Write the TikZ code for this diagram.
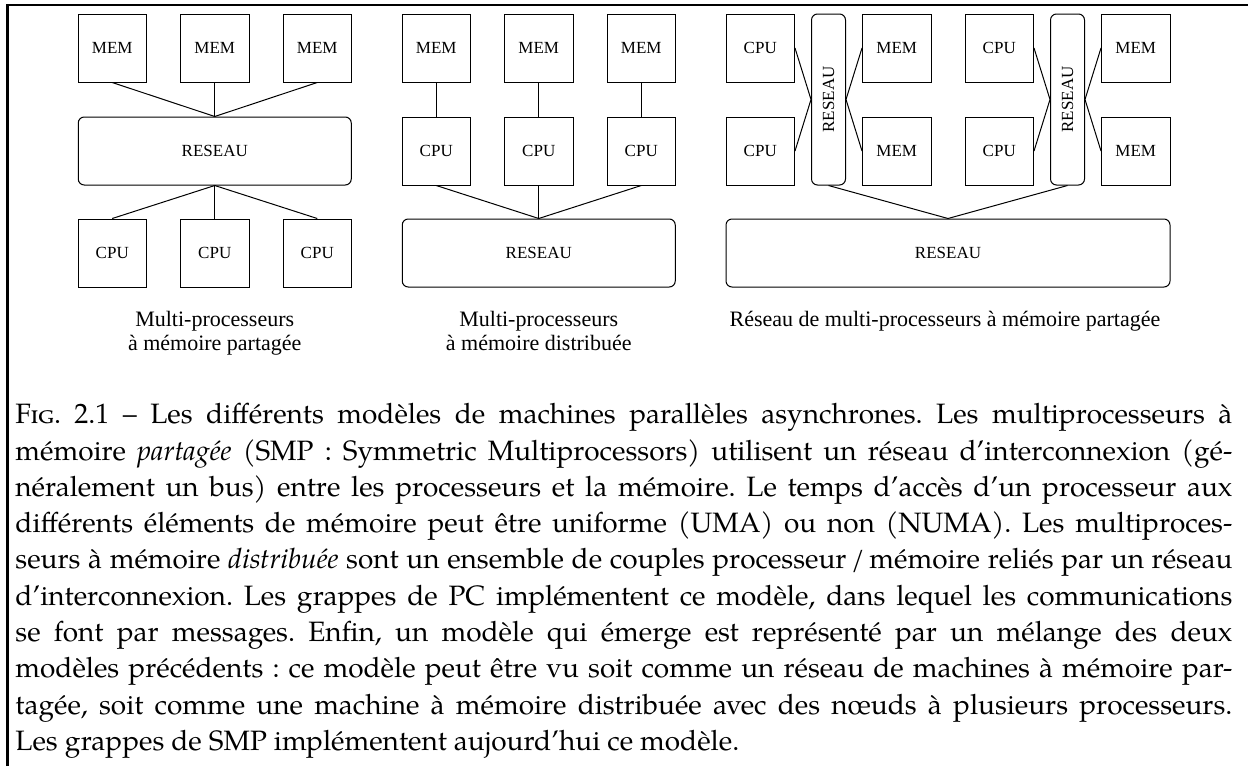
\documentclass[tikz,border=0pt]{standalone}
\usepackage{fontspec}
\usepackage{graphicx}
\usepackage{tikz}
\usetikzlibrary{positioning}
\newfontfamily\diagfont{Liberation Serif}
\newfontfamily\captfont{TeX Gyre Pagella}
\frenchspacing

\begin{document}
\begin{tikzpicture}[x=0.5pt, y=-0.5pt,
    unit/.style={draw, line width=0.5pt, minimum width=34.25pt, minimum height=34pt, inner sep=0pt, font=\diagfont\fontsize{8.5}{10}\selectfont},
    net/.style={unit, rounded corners=3pt, minimum width=136.5pt},
    bus/.style={unit, rounded corners=3pt, minimum width=17pt, minimum height=85.5pt},
    link/.style={line width=0.5pt},
    legend/.style={font=\diagfont\fontsize{11}{12}\selectfont, align=center, inner sep=0pt, anchor=north}]
    \useasboundingbox (0,0) rectangle (1248,766);

    % Page frame
    \draw[line width=1.5pt] (7.5,766) -- (7.5,4);
    \draw[line width=1pt] (6,5) -- (1248,5);

    % Shared memory
    \node[unit] (mem1) at (112.25,48) {MEM};
    \node[unit] (mem2) at (214.75,48) {MEM};
    \node[unit] (mem3) at (317.25,48) {MEM};
    \node[net] (net1) at (214.75,151) {RESEAU};
    \node[unit] (cpu1) at (112.25,253) {CPU};
    \node[unit] (cpu2) at (214.75,253) {CPU};
    \node[unit] (cpu3) at (317.25,253) {CPU};
    \draw[link] (mem1.south) -- (net1.north) -- (mem3.south);
    \draw[link] (mem2.south) -- (net1.north);
    \draw[link] (cpu1.north) -- (net1.south) -- (cpu3.north);
    \draw[link] (cpu2.north) -- (net1.south);
    \node[legend] (lab1) at (214.75,311) {Multi-processeurs\\à mémoire partagée};

    % Distributed memory
    \begin{scope}[shift={(324,0)}]
    \node[unit] (dmem1) at (112.25,48) {MEM};
    \node[unit] (dmem2) at (214.75,48) {MEM};
    \node[unit] (dmem3) at (317.25,48) {MEM};
    \node[unit] (dcpu1) at (112.25,151) {CPU};
    \node[unit] (dcpu2) at (214.75,151) {CPU};
    \node[unit] (dcpu3) at (317.25,151) {CPU};
    \node[net] (net2) at (214.75,253) {RESEAU};
    \draw[link] (dmem1) -- (dcpu1);
    \draw[link] (dmem2) -- (dcpu2);
    \draw[link] (dmem3) -- (dcpu3);
    \draw[link] (dcpu1.south) -- (net2.north) -- (dcpu3.south);
    \draw[link] (dcpu2.south) -- (net2.north);
    \node[legend] (lab2) at (214.75,311) {Multi-processeurs\\à mémoire distribuée};
    \end{scope}

    % Network of SMP
    \begin{scope}[shift={(648,0)}]
    \node[unit] (scpu1) at (112.25,48) {CPU};
    \node[unit] (scpu2) at (112.25,151) {CPU};
    \node[bus] (bus1) at (180.5,99.5) {\rotatebox{90}{RESEAU}};
    \node[unit] (smem1) at (248.75,48) {MEM};
    \node[unit] (smem2) at (248.75,151) {MEM};
    \node[unit] (scpu3) at (351.25,48) {CPU};
    \node[unit] (scpu4) at (351.25,151) {CPU};
    \node[bus] (bus2) at (419.5,99.5) {\rotatebox{90}{RESEAU}};
    \node[unit] (smem3) at (487.75,48) {MEM};
    \node[unit] (smem4) at (487.75,151) {MEM};
    \node[net, minimum width=222pt] (net3) at (300,253) {RESEAU};
    \draw[link] (scpu1.east) -- (bus1.west) -- (scpu2.east);
    \draw[link] (smem1.west) -- (bus1.east) -- (smem2.west);
    \draw[link] (scpu3.east) -- (bus2.west) -- (scpu4.east);
    \draw[link] (smem3.west) -- (bus2.east) -- (smem4.west);
    \draw[link] (bus1.south) -- (net3.north) -- (bus2.south);
    \node[legend] (lab3) at (297,311) {Réseau de multi-processeurs à mémoire partagée};
    \end{scope}

    % Caption
    \node[anchor=north west, inner sep=0pt, text width=608.5pt, align=justify,
          font=\captfont\fontsize{14}{18.15}\selectfont] (caption) at (15,403)
    {\setlength{\parindent}{0pt}\frenchspacing\textsc{Fig.} 2.1 – Les différents modèles de machines parallèles asynchrones. Les multiprocesseurs à\linebreak
    mémoire \emph{partagée} (SMP : Symmetric Multiprocessors) utilisent un réseau d’interconnexion (gé-\linebreak
    néralement un bus) entre les processeurs et la mémoire. Le temps d’accès d’un processeur aux\linebreak
    différents éléments de mémoire peut être uniforme (UMA) ou non (NUMA). Les multiproces-\linebreak
    seurs à mémoire \emph{distribuée} sont un ensemble de couples processeur\,/\,mémoire reliés par un réseau\linebreak
    d’interconnexion. Les grappes de PC implémentent ce modèle, dans lequel les communications\linebreak
    se font par messages. Enfin, un modèle qui émerge est représenté par un mélange des deux\linebreak
    modèles précédents : ce modèle peut être vu soit comme un réseau de machines à mémoire par-\linebreak
    tagée, soit comme une machine à mémoire distribuée avec des nœuds à plusieurs processeurs.\linebreak
    Les grappes de SMP implémentent aujourd’hui ce modèle.};
\end{tikzpicture}
\end{document}
